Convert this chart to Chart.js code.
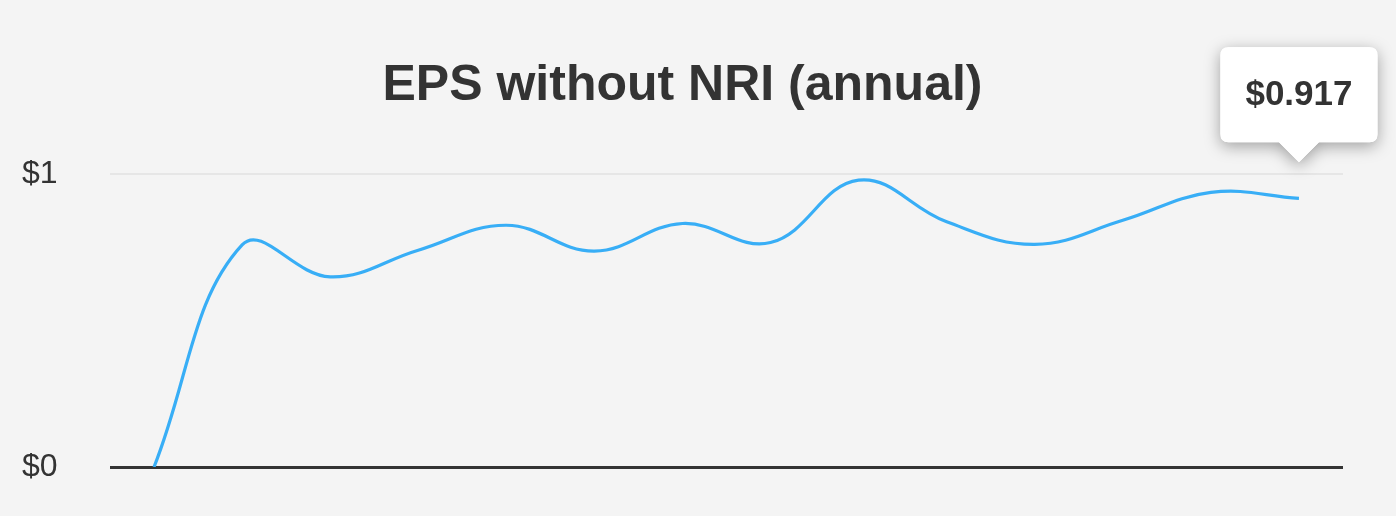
<!DOCTYPE html>
<html>
<head>
<meta charset="utf-8">
<script src="https://cdn.jsdelivr.net/npm/chart.js@4.4.1/dist/chart.umd.min.js"></script>
<style>
  html, body { margin: 0; padding: 0; background: #f4f4f4; }
  #wrap { width: 1396px; height: 516px; position: relative; }
</style>
</head>
<body>
<div id="wrap"><canvas id="c"></canvas></div>
<script>
const years = ['2011','2012','2013','2014','2015','2016','2017','2018','2019','2020','2021','2022','2023','2024'];
const epsWithoutNRI = [0, 0.758, 0.649, 0.74, 0.825, 0.737, 0.831, 0.766, 0.979, 0.837, 0.760, 0.842, 0.937, 0.917];
const yTickValues = [0, 1];
const titleText = 'EPS without NRI (annual)';

const FONT = "'Liberation Sans', Arial, Helvetica, sans-serif";

const tooltipShadow = {
  id: 'tooltipShadow',
  beforeTooltipDraw(chart, args) {
    const tt = args.tooltip;
    if (!tt || tt.opacity === 0) return;
    const ctx = chart.ctx;
    const x = tt.x, y = tt.y, w = tt.width, h = tt.height, r = 8;
    ctx.save();
    ctx.shadowColor = 'rgba(0,0,0,0.35)';
    ctx.shadowBlur = 16;
    ctx.shadowOffsetY = 4;
    ctx.fillStyle = '#ffffff';
    ctx.beginPath();
    ctx.moveTo(x + r, y);
    ctx.lineTo(x + w - r, y);
    ctx.quadraticCurveTo(x + w, y, x + w, y + r);
    ctx.lineTo(x + w, y + h - r);
    ctx.quadraticCurveTo(x + w, y + h, x + w - r, y + h);
    ctx.lineTo(tt.caretX + 20, y + h);
    ctx.lineTo(tt.caretX, y + h + 20);
    ctx.lineTo(tt.caretX - 20, y + h);
    ctx.lineTo(x + r, y + h);
    ctx.quadraticCurveTo(x, y + h, x, y + h - r);
    ctx.lineTo(x, y + r);
    ctx.quadraticCurveTo(x, y, x + r, y);
    ctx.closePath();
    ctx.fill();
    ctx.restore();
  }
};

const chart = new Chart(document.getElementById('c'), {
  type: 'line',
  data: {
    labels: years,
    datasets: [{
      data: epsWithoutNRI,
      borderColor: '#38aef6',
      borderWidth: 3.2,
      pointRadius: 0,
      pointHoverRadius: 0,
      fill: false,
      tension: 0.4
    }]
  },
  options: {
    responsive: true,
    maintainAspectRatio: false,
    animation: false,
    events: [],
    layout: { padding: { left: 22, right: 53, top: 0, bottom: 49 } },
    scales: {
      x: {
        type: 'category',
        offset: true,
        display: false
      },
      y: {
        min: 0,
        max: 1,
        afterBuildTicks(scale) { scale.ticks = yTickValues.map(v => ({ value: v })); },
        afterFit(scale) { scale.width = 88; },
        border: { display: false },
        grid: {
          drawTicks: false,
          color: ctx => ctx.tick && ctx.tick.value === 0 ? '#333333' : '#e6e6e6',
          lineWidth: ctx => ctx.tick && ctx.tick.value === 0 ? 3 : 2
        },
        ticks: {
          padding: 4,
          crossAlign: 'far',
          color: '#333333',
          font: { family: FONT, size: 32 },
          callback: v => '$' + v
        }
      }
    },
    plugins: {
      legend: { display: false },
      title: {
        display: true,
        text: titleText,
        color: '#333333',
        font: { family: FONT, size: 50, weight: 'bold' },
        padding: { top: 56, bottom: 58 }
      },
      tooltip: {
        enabled: true,
        animation: false,
        backgroundColor: '#ffffff',
        bodyColor: '#333333',
        bodyFont: { family: FONT, size: 35, weight: 'bold' },
        padding: { top: 27, bottom: 26, left: 25, right: 25 },
        cornerRadius: 8,
        caretSize: 20,
        caretPadding: 36,
        displayColors: false,
        xAlign: 'center',
        yAlign: 'bottom',
        callbacks: {
          title: () => [],
          label: ctx => '$' + ctx.parsed.y.toFixed(3)
        }
      }
    }
  },
  plugins: [tooltipShadow]
});

const lastIndex = epsWithoutNRI.length - 1;
const pt = chart.getDatasetMeta(0).data[lastIndex];
chart.tooltip.setActiveElements([{ datasetIndex: 0, index: lastIndex }], { x: pt.x, y: pt.y });
chart.update();
</script>
</body>
</html>
